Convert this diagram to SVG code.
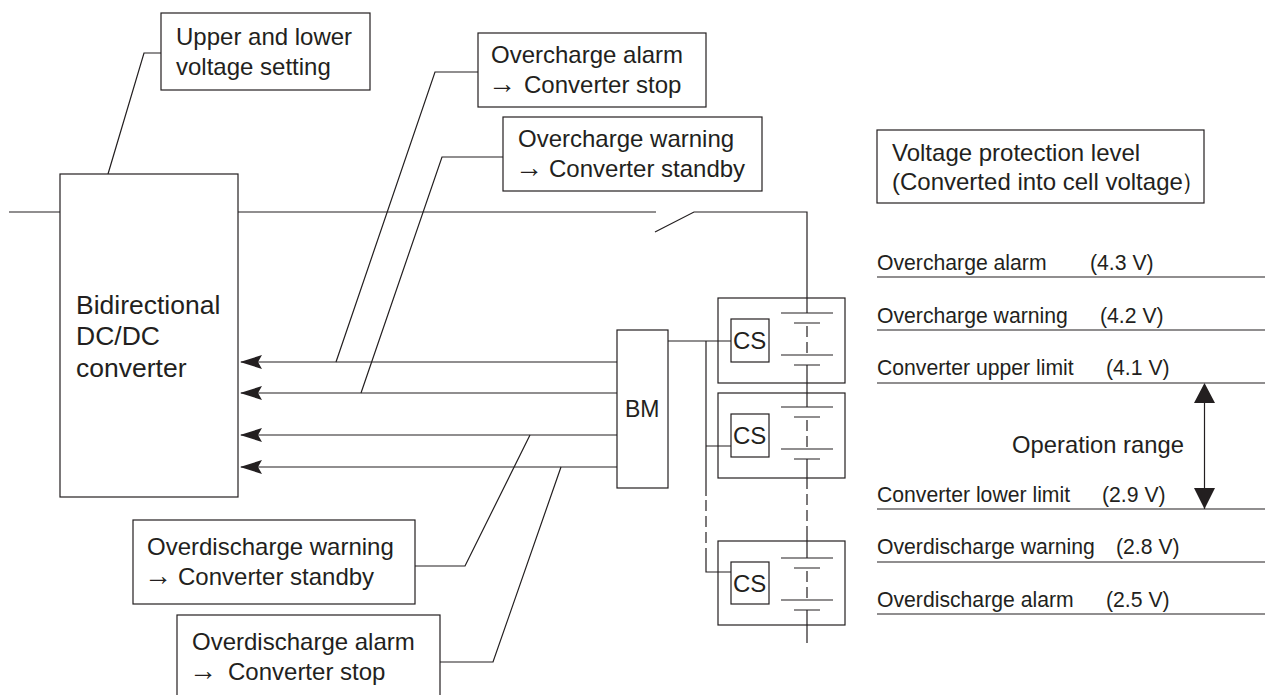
<svg xmlns="http://www.w3.org/2000/svg" width="1268" height="695" viewBox="0 0 1268 695">
<style>
text{font-family:"Liberation Sans",Arial,sans-serif;font-size:24px;fill:#231f20}
.s{font-size:21.2px}
.m{font-size:28px}
.bd{font-size:26.5px}
.b{fill:#fff;stroke:#231f20;stroke-width:1.2}
.l{fill:none;stroke:#231f20;stroke-width:1.2}
.d{fill:none;stroke:#231f20;stroke-width:1.2;stroke-dasharray:11 5}
</style>
<defs>
<marker id="ah" markerUnits="userSpaceOnUse" markerWidth="24" markerHeight="16" refX="22" refY="8" orient="auto"><path d="M23 8L1 1L5 8L1 15Z" fill="#231f20"/></marker>
<g id="cell"><path class="l" d="M781 313H833M794 323H820M781 355H833M794 365H820"/></g>
</defs>
<g id="connectors">
<path class="l" d="M9 212H60M238 212H656M655 232L694 212H807V313"/>
<path class="l" d="M108 174L144 53H161"/>
<path class="l" d="M336 362L435 72H478"/>
<path class="l" d="M361 393L442 157H503"/>
<path class="l" d="M415 566H465L530 435"/>
<path class="l" d="M440 662H493L561 467"/>
<path class="l" marker-end="url(#ah)" d="M617 362H241"/>
<path class="l" marker-end="url(#ah)" d="M617 393H241"/>
<path class="l" marker-end="url(#ah)" d="M617 435H241"/>
<path class="l" marker-end="url(#ah)" d="M617 467H241"/>
<path class="l" d="M668 341H731M706 341V496M706 446H731M706 550V572H731"/>
<path class="d" d="M706 500V550"/>
<path class="l" d="M807 365V407"/>
<path class="d" d="M807 326V355M807 420V449M807 478V537M807 571V600"/>
<path class="l" d="M807 459V478M807 537V558M807 610V643"/>
<path class="l" d="M1204.500 385V509"/>
</g>
<g id="node-setting"><rect class="b" x="161" y="13" width="209" height="77"/><text x="176" y="45">Upper and lower</text><text x="176" y="75">voltage setting</text></g>
<g id="node-oc-alarm"><rect class="b" x="478" y="33" width="228" height="74"/><text x="491" y="63">Overcharge alarm</text><text y="93"><tspan class="m" x="488">→</tspan><tspan x="524">Converter stop</tspan></text></g>
<g id="node-oc-warning"><rect class="b" x="503" y="117" width="259" height="74"/><text x="518" y="147">Overcharge warning</text><text y="177"><tspan class="m" x="515">→</tspan><tspan x="549">Converter standby</tspan></text></g>
<g id="node-dcdc"><rect class="b" x="60" y="174" width="178" height="323"/><text class="bd" x="76" y="314">Bidirectional</text><text class="bd" x="76" y="345">DC/DC</text><text class="bd" x="76" y="377">converter</text></g>
<g id="node-od-warning"><rect class="b" x="133" y="520" width="282" height="84"/><text x="147" y="555">Overdischarge warning</text><text y="585"><tspan class="m" x="144">→</tspan><tspan x="178">Converter standby</tspan></text></g>
<g id="node-od-alarm"><rect class="b" x="177" y="615" width="263" height="85"/><text x="192" y="650">Overdischarge alarm</text><text y="680"><tspan class="m" x="189">→</tspan><tspan x="228">Converter stop</tspan></text></g>
<g id="node-bm"><rect class="b" x="617" y="330" width="51" height="158"/><text x="625" y="417" style="font-size:23px">BM</text></g>
<g id="node-pack1"><rect class="l" x="718" y="298" width="127" height="85"/><rect class="b" x="731" y="319" width="38" height="43"/><text x="733" y="349">CS</text><use href="#cell"/></g>
<g id="node-pack2"><rect class="l" x="718" y="393" width="127" height="85"/><rect class="b" x="731" y="414" width="38" height="43"/><text x="733" y="444">CS</text><use href="#cell" y="94"/></g>
<g id="node-pack3"><rect class="l" x="718" y="541" width="127" height="84"/><rect class="b" x="731" y="562" width="38" height="42"/><text x="733" y="592">CS</text><use href="#cell" y="245"/></g>
<g id="node-levels">
<rect class="b" x="877" y="130" width="327" height="73"/>
<text x="892" y="161">Voltage protection level</text>
<text x="892" y="190">(Converted into cell voltage<tspan dx="-2">）</tspan></text>
<text class="s" x="877" y="270">Overcharge alarm</text><text class="s" x="1090" y="270">(4.3 V)</text>
<text class="s" x="877" y="323">Overcharge warning</text><text class="s" x="1100" y="323">(4.2 V)</text>
<text class="s" x="877" y="375">Converter upper limit</text><text class="s" x="1106" y="375">(4.1 V)</text>
<text class="s" x="877" y="502">Converter lower limit</text><text class="s" x="1102" y="502">(2.9 V)</text>
<text class="s" x="877" y="554">Overdischarge warning</text><text class="s" x="1116" y="554">(2.8 V)</text>
<text class="s" x="877" y="607">Overdischarge alarm</text><text class="s" x="1106" y="607">(2.5 V)</text>
<path class="l" d="M877 277H1265M877 330H1265M877 383H1265M877 509H1265M877 562H1265M877 614H1265"/>
<text x="1012" y="453" style="font-size:23.8px">Operation range</text>
<path d="M1204.500 383L1215 403H1194ZM1204.500 509L1194 488H1215Z" fill="#231f20"/>
</g>
</svg>
